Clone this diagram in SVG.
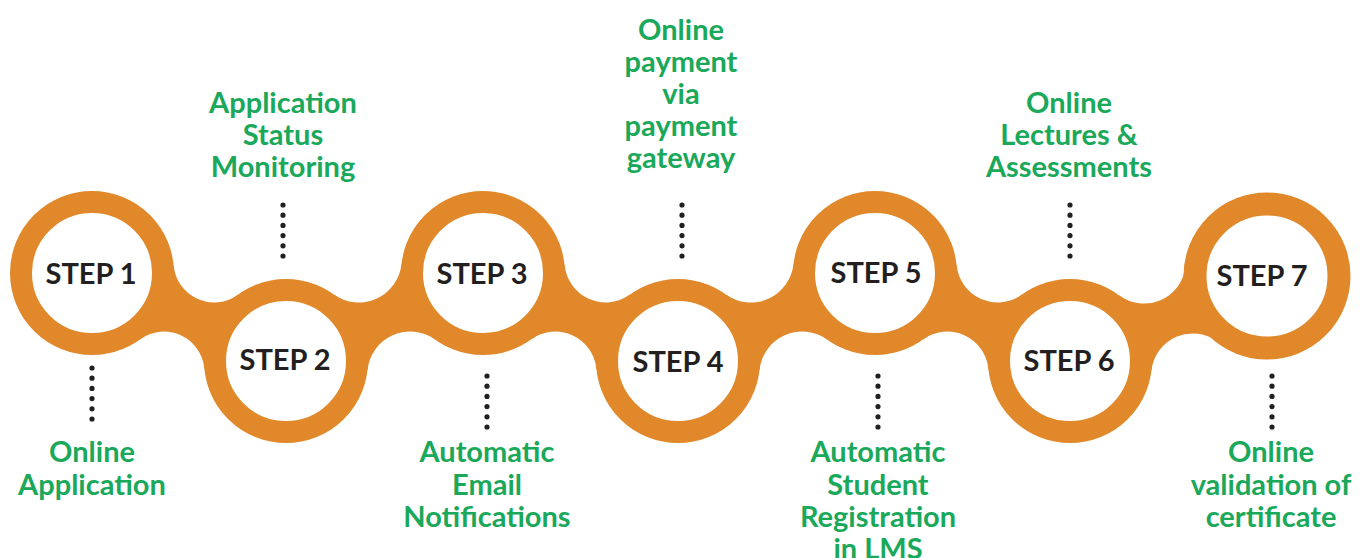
<svg xmlns="http://www.w3.org/2000/svg" width="1367" height="558" viewBox="0 0 1367 558">
<style>
.band{fill:#E0882A;}
.ring{fill:#ffffff;stroke:#E0882A;stroke-width:22;}
.step{font-family:Lato,"Liberation Sans",sans-serif;font-weight:bold;font-size:29px;fill:#231f20;text-anchor:middle;}
.lbl{font-family:Lato,"Liberation Sans",sans-serif;font-weight:bold;font-size:29px;fill:#1AA85A;text-anchor:middle;}
.dots{stroke:#231f20;stroke-width:5.2;stroke-linecap:round;stroke-dasharray:0 10.2;fill:none;}
</style>
<rect width="1367" height="558" fill="#ffffff"/>
<g id="connectors">
<path class="band" d="M92,273 L173.66,265.58 A40.49,40.49 0 0 0 237.8,294.67 L286,361 L204.34,368.42 A40.49,40.49 0 0 0 140.2,339.33 Z"/>
<path class="band" d="M286,361 L333.85,294.41 A42.85,42.85 0 0 0 401.47,264.21 L483,273 L435.15,339.59 A42.85,42.85 0 0 0 367.53,369.79 Z"/>
<path class="band" d="M483,273 L564.62,265.12 A41.27,41.27 0 0 0 629.91,294.58 L678,361 L596.38,368.88 A41.27,41.27 0 0 0 531.09,339.42 Z"/>
<path class="band" d="M678,361 L725.85,294.41 A42.85,42.85 0 0 0 793.47,264.21 L875,273 L827.15,339.59 A42.85,42.85 0 0 0 759.53,369.79 Z"/>
<path class="band" d="M875,273 L956.62,265.12 A41.27,41.27 0 0 0 1021.91,294.58 L1070,361 L988.38,368.88 A41.27,41.27 0 0 0 923.09,339.42 Z"/>
<path class="band" d="M1070,361 L1119.02,295.27 A41.81,41.81 0 0 0 1185.54,266.56 L1267,276 L1217.98,341.73 A41.81,41.81 0 0 0 1151.46,370.44 Z"/>
<line class="dots" x1="92" y1="368" x2="92" y2="420"/>
<line class="dots" x1="283" y1="205" x2="283" y2="257"/>
<line class="dots" x1="487" y1="376" x2="487" y2="428"/>
<line class="dots" x1="682" y1="205" x2="682" y2="257"/>
<line class="dots" x1="878" y1="376" x2="878" y2="428"/>
<line class="dots" x1="1070" y1="205" x2="1070" y2="257"/>
<line class="dots" x1="1272" y1="376" x2="1272" y2="428"/>
</g>
<g id="step1">
<circle class="ring" cx="92" cy="273" r="71"/>
<text class="step" x="91" y="284">STEP 1</text>
<text class="lbl" x="92" y="462">Online<tspan x="92" dy="33">Application</tspan></text>
</g>
<g id="step2">
<circle class="ring" cx="286" cy="361" r="71"/>
<text class="step" x="285" y="370">STEP 2</text>
<text class="lbl" x="283" y="113">Application<tspan x="283" dy="32">Status</tspan><tspan x="283" dy="32">Monitoring</tspan></text>
</g>
<g id="step3">
<circle class="ring" cx="483" cy="273" r="71"/>
<text class="step" x="482" y="284">STEP 3</text>
<text class="lbl" x="487" y="462">Automatic<tspan x="487" dy="33">Email</tspan><tspan x="487" dy="32">Notifications</tspan></text>
</g>
<g id="step4">
<circle class="ring" cx="678" cy="361" r="71"/>
<text class="step" x="678" y="372">STEP 4</text>
<text class="lbl" x="681" y="40">Online<tspan x="681" dy="32">payment</tspan><tspan x="681" dy="32">via</tspan><tspan x="681" dy="32">payment</tspan><tspan x="681" dy="32">gateway</tspan></text>
</g>
<g id="step5">
<circle class="ring" cx="875" cy="273" r="71"/>
<text class="step" x="876" y="283">STEP 5</text>
<text class="lbl" x="878" y="462">Automatic<tspan x="878" dy="33">Student</tspan><tspan x="878" dy="32">Registration</tspan><tspan x="878" dy="32">in LMS</tspan></text>
</g>
<g id="step6">
<circle class="ring" cx="1070" cy="361" r="71"/>
<text class="step" x="1069" y="371">STEP 6</text>
<text class="lbl" x="1069" y="113">Online<tspan x="1069" dy="32">Lectures &amp;</tspan><tspan x="1069" dy="32">Assessments</tspan></text>
</g>
<g id="step7">
<circle class="ring" cx="1267" cy="276" r="72" style="stroke-width:23"/>
<text class="step" x="1262" y="286">STEP 7</text>
<text class="lbl" x="1271" y="462">Online<tspan x="1271" dy="33">validation of</tspan><tspan x="1271" dy="32">certificate</tspan></text>
</g>
</svg>
